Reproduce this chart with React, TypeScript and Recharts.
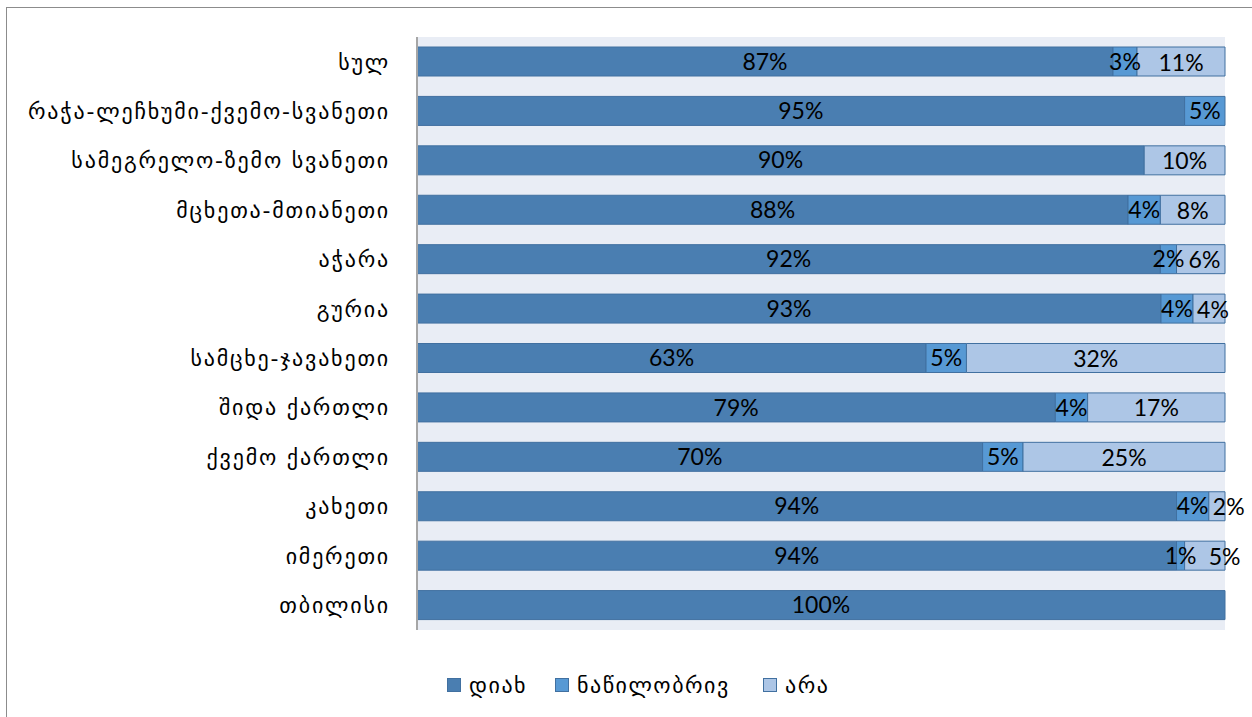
import React from "react";
import { BarChart, Bar, XAxis, YAxis, CartesianGrid, LabelList } from "recharts";

const regions = [
  "სულ",
  "რაჭა-ლეჩხუმი-ქვემო-სვანეთი",
  "სამეგრელო-ზემო სვანეთი",
  "მცხეთა-მთიანეთი",
  "აჭარა",
  "გურია",
  "სამცხე-ჯავახეთი",
  "შიდა ქართლი",
  "ქვემო ქართლი",
  "კახეთი",
  "იმერეთი",
  "თბილისი",
];
const yes = [87, 95, 90, 88, 92, 93, 63, 79, 70, 94, 94, 100];
const partly = [3, 5, 0, 4, 2, 4, 5, 4, 5, 4, 1, 0];
const no = [11, 0, 10, 8, 6, 4, 32, 17, 25, 2, 5, 0];

const seriesNames = ["დიახ", "ნაწილობრივ", "არა"];
const colors = ["#4a7eb1", "#5799d4", "#adc6e6"];
const strokeColor = "#4170a0";

const data = regions.map((r, i) => ({ region: r, yes: yes[i], partly: partly[i], no: no[i] }));

const W = 1252;
const H = 717;
const M = { top: 37, right: 27, bottom: 87, left: 0 };
const AXIS_W = 417;
const PLOT_W = W - M.left - M.right - AXIS_W;
const BAND = (H - M.top - M.bottom) / regions.length;

const LABEL_FONT = "Lato, 'DejaVu Sans', sans-serif";
const GEO_FONT = "'DejaVu Sans', sans-serif";
const LABEL_SIZE = 23;

const fmt = (v: any) => (v ? `${v}%` : "");

// label for the last segment: pushed right if it would run into the previous label
function NoLabel(props: any) {
  const { x, y, width, height, value } = props;
  if (!value) return null;
  // row from the bar's position (label index skips empty bars)
  const i = Math.floor((Number(y) + Number(height) / 2 - M.top) / BAND);
  const p = partly[i] || 0;
  const total = (yes[i] || 0) + p + (no[i] || 0) || 100;
  const pw = (p / total) * PLOT_W;
  let cx = Number(x) + Number(width) / 2;
  if (p) {
    const gap = pw < 12 ? 12 : 4;
    const minCx = Number(x) - pw / 2 + 32 + gap;
    if (cx < minCx) cx = minCx;
  }
  return (
    <text
      x={cx}
      y={Number(y) + Number(height) / 2}
      textAnchor="middle"
      dominantBaseline="central"
      fill="#000"
      fontSize={LABEL_SIZE}
      fontFamily={LABEL_FONT}
    >
      {value}%
    </text>
  );
}

const legendX = [447, 555, 763];

export default function App() {
  return (
    <div style={{ position: "absolute", left: 0, top: 0, width: W, height: H, background: "#fff" }}>
      <div
        style={{
          position: "absolute",
          left: 6,
          top: 7,
          width: 1250,
          height: 715,
          border: "1px solid #8c8c8c",
          boxSizing: "border-box",
        }}
      />
      <div style={{ position: "absolute", left: 0, top: 0 }}>
        <BarChart width={W} height={H} data={data} layout="vertical" stackOffset="expand" margin={M}>
          <CartesianGrid fill="#e9edf5" stroke="none" horizontal={false} vertical={false} />
          <XAxis type="number" hide domain={[0, 1]} />
          <YAxis
            type="category"
            dataKey="region"
            width={AXIS_W}
            axisLine={{ stroke: "#a6a6a6", strokeWidth: 2 }}
            tickLine={false}
            tickSize={0}
            tickMargin={27}
            tick={{ fill: "#000", fontSize: 22, fontFamily: GEO_FONT, letterSpacing: 1.8 }}
            interval={0}
          />
          <Bar dataKey="yes" stackId="a" fill={colors[0]} stroke={strokeColor} barSize={29} isAnimationActive={false}>
            <LabelList dataKey="yes" position="center" formatter={fmt} fill="#000" fontSize={LABEL_SIZE} fontFamily={LABEL_FONT} />
          </Bar>
          <Bar dataKey="partly" stackId="a" fill={colors[1]} stroke={strokeColor} barSize={29} isAnimationActive={false}>
            <LabelList dataKey="partly" position="center" formatter={fmt} fill="#000" fontSize={LABEL_SIZE} fontFamily={LABEL_FONT} />
          </Bar>
          <Bar dataKey="no" stackId="a" fill={colors[2]} stroke={strokeColor} barSize={29} isAnimationActive={false}>
            <LabelList dataKey="no" content={NoLabel} />
          </Bar>
        </BarChart>
      </div>
      {seriesNames.map((n, i) => (
        <div
          key={n}
          style={{
            position: "absolute",
            left: legendX[i],
            top: 671,
            height: 28,
            display: "flex",
            alignItems: "center",
            fontFamily: GEO_FONT,
            fontSize: 22,
            letterSpacing: 1.5,
            color: "#000",
            whiteSpace: "nowrap",
          }}
        >
          <span
            style={{
              display: "inline-block",
              width: 14,
              height: 14,
              background: colors[i],
              border: `1px solid ${strokeColor}`,
              boxSizing: "border-box",
              marginRight: 8,
            }}
          />
          <span>{n}</span>
        </div>
      ))}
    </div>
  );
}
